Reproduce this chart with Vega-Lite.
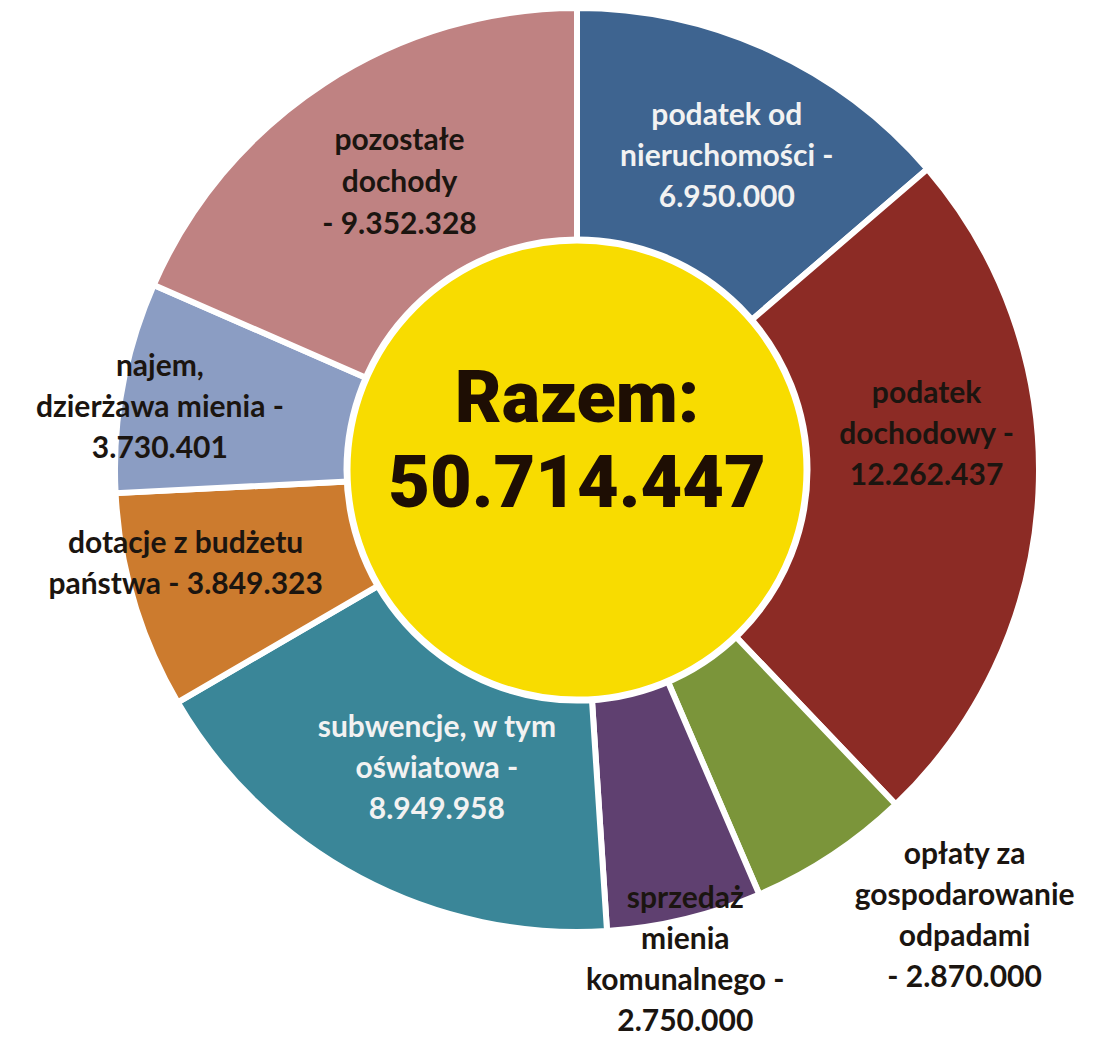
{
  "$schema": "https://vega.github.io/schema/vega-lite/v6.json",
  "autosize": {"type": "none"},
  "width": 1046,
  "height": 940,
  "padding": {"left": 54, "top": 0, "right": 0, "bottom": 99},
  "background": "white",
  "config": {
    "view": {"stroke": null},
    "locale": {"number": {"decimal": ",", "thousands": ".", "grouping": [3], "currency": ["", " zł"]}}
  },
  "data": {
    "values": [
      {"k": 1, "name": "podatek od nieruchomości", "value": 6950000, "label": "podatek od\nnieruchomości -\n6.950.000"},
      {"k": 2, "name": "podatek dochodowy", "value": 12262437, "label": "podatek\ndochodowy -\n12.262.437"},
      {"k": 3, "name": "opłaty za gospodarowanie odpadami", "value": 2870000, "label": "opłaty za\ngospodarowanie\nodpadami\n- 2.870.000"},
      {"k": 4, "name": "sprzedaż mienia komunalnego", "value": 2750000, "label": "sprzedaż\nmienia\nkomunalnego -\n2.750.000"},
      {"k": 5, "name": "subwencje, w tym oświatowa", "value": 8949958, "label": "subwencje, w tym\noświatowa -\n8.949.958"},
      {"k": 6, "name": "dotacje z budżetu państwa", "value": 3849323, "label": "dotacje z budżetu\npaństwa - 3.849.323"},
      {"k": 7, "name": "najem, dzierżawa mienia", "value": 3730401, "label": "najem,\ndzierżawa mienia -\n3.730.401"},
      {"k": 8, "name": "pozostałe dochody", "value": 9352328, "label": "pozostałe\ndochody\n- 9.352.328"}
    ]
  },
  "layer": [
    {
      "mark": {"type": "arc", "outerRadius": 462, "innerRadius": 100, "stroke": "#ffffff", "strokeWidth": 6},
      "encoding": {
        "theta": {"field": "value", "type": "quantitative", "stack": true},
        "order": {"field": "k", "type": "quantitative"},
        "color": {
          "field": "name", "type": "nominal", "legend": null,
          "scale": {
            "domain": ["podatek od nieruchomości", "podatek dochodowy", "opłaty za gospodarowanie odpadami", "sprzedaż mienia komunalnego", "subwencje, w tym oświatowa", "dotacje z budżetu państwa", "najem, dzierżawa mienia", "pozostałe dochody"],
            "range": ["#3E6490", "#8C2B25", "#7B953A", "#5F4070", "#3A8698", "#CC7B2E", "#8B9DC3", "#BF8282"]
          }
        }
      }
    },
    {
      "transform": [{"aggregate": [{"op": "sum", "field": "value", "as": "total"}]}],
      "layer": [
        {"mark": {"type": "point", "shape": "circle", "filled": true, "size": 211600, "fill": "#F8DC00", "opacity": 1, "stroke": "#ffffff", "strokeWidth": 7}, "encoding": {}},
        {"mark": {"type": "text", "font": "Roboto", "fontWeight": 900, "fontSize": 72, "fill": "#1E0E04", "align": "center", "baseline": "alphabetic", "dy": -48}, "encoding": {"text": {"value": "Razem:"}}},
        {"mark": {"type": "text", "font": "Roboto", "fontWeight": 900, "fontSize": 72, "fill": "#1E0E04", "align": "center", "baseline": "alphabetic", "dy": 37}, "encoding": {"text": {"field": "total", "type": "quantitative", "format": ",d"}}}
      ]
    },
    {
      "mark": {"type": "text", "radius": 347, "dx": 5, "dy": -39, "font": "Lato", "fontWeight": "bold", "fontSize": 30, "lineHeight": 41, "lineBreak": "\n", "align": "center", "baseline": "middle", "fill": "#F2F2F2"},
      "encoding": {"theta": {"field": "value", "type": "quantitative", "stack": true}, "order": {"field": "k", "type": "quantitative"}, "text": {"condition": {"test": "datum.k === 1", "field": "label", "type": "nominal"}, "value": ""}}
    },
    {
      "mark": {"type": "text", "radius": 350, "dx": 0, "dy": -93, "font": "Lato", "fontWeight": "bold", "fontSize": 30, "lineHeight": 41, "lineBreak": "\n", "align": "center", "baseline": "middle", "fill": "#1B1510"},
      "encoding": {"theta": {"field": "value", "type": "quantitative", "stack": true}, "order": {"field": "k", "type": "quantitative"}, "text": {"condition": {"test": "datum.k === 2", "field": "label", "type": "nominal"}, "value": ""}}
    },
    {
      "mark": {"type": "text", "radius": 591, "dx": 62, "dy": -108, "font": "Lato", "fontWeight": "bold", "fontSize": 30, "lineHeight": 41, "lineBreak": "\n", "align": "center", "baseline": "middle", "fill": "#1B1510"},
      "encoding": {"theta": {"field": "value", "type": "quantitative", "stack": true}, "order": {"field": "k", "type": "quantitative"}, "text": {"condition": {"test": "datum.k === 3", "field": "label", "type": "nominal"}, "value": ""}}
    },
    {
      "mark": {"type": "text", "radius": 503, "dx": -9, "dy": -60, "font": "Lato", "fontWeight": "bold", "fontSize": 30, "lineHeight": 41, "lineBreak": "\n", "align": "center", "baseline": "middle", "fill": "#1B1510"},
      "encoding": {"theta": {"field": "value", "type": "quantitative", "stack": true}, "order": {"field": "k", "type": "quantitative"}, "text": {"condition": {"test": "datum.k === 4", "field": "label", "type": "nominal"}, "value": ""}}
    },
    {
      "mark": {"type": "text", "radius": 330, "dx": 15, "dy": -33, "font": "Lato", "fontWeight": "bold", "fontSize": 30, "lineHeight": 41, "lineBreak": "\n", "align": "center", "baseline": "middle", "fill": "#F2F2F2"},
      "encoding": {"theta": {"field": "value", "type": "quantitative", "stack": true}, "order": {"field": "k", "type": "quantitative"}, "text": {"condition": {"test": "datum.k === 5", "field": "label", "type": "nominal"}, "value": ""}}
    },
    {
      "mark": {"type": "text", "radius": 402, "dx": -6, "dy": -40, "font": "Lato", "fontWeight": "bold", "fontSize": 30, "lineHeight": 41, "lineBreak": "\n", "align": "center", "baseline": "middle", "fill": "#1B1510"},
      "encoding": {"theta": {"field": "value", "type": "quantitative", "stack": true}, "order": {"field": "k", "type": "quantitative"}, "text": {"condition": {"test": "datum.k === 6", "field": "label", "type": "nominal"}, "value": ""}}
    },
    {
      "mark": {"type": "text", "radius": 422, "dx": -2, "dy": -27, "font": "Lato", "fontWeight": "bold", "fontSize": 30, "lineHeight": 41, "lineBreak": "\n", "align": "center", "baseline": "middle", "fill": "#1B1510"},
      "encoding": {"theta": {"field": "value", "type": "quantitative", "stack": true}, "order": {"field": "k", "type": "quantitative"}, "text": {"condition": {"test": "datum.k === 7", "field": "label", "type": "nominal"}, "value": ""}}
    },
    {
      "mark": {"type": "text", "radius": 337, "dx": 7, "dy": -47, "font": "Lato", "fontWeight": "bold", "fontSize": 30, "lineHeight": 42, "lineBreak": "\n", "align": "center", "baseline": "middle", "fill": "#1B1510"},
      "encoding": {"theta": {"field": "value", "type": "quantitative", "stack": true}, "order": {"field": "k", "type": "quantitative"}, "text": {"condition": {"test": "datum.k === 8", "field": "label", "type": "nominal"}, "value": ""}}
    }
  ]
}
